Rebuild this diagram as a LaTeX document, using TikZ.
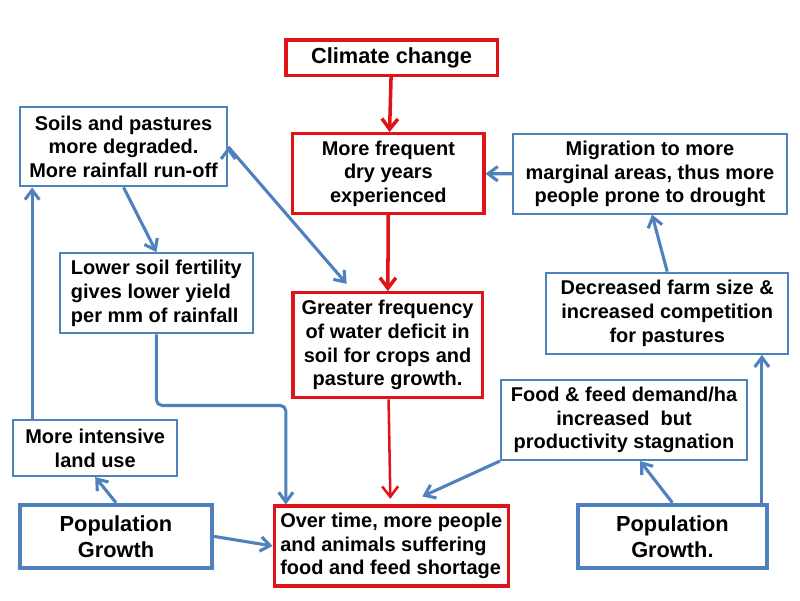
\documentclass[tikz,border=0pt]{standalone}
\usepackage{fontspec}
\setmainfont{Liberation Sans}
\usepackage{tikz}
\usetikzlibrary{positioning}
\usetikzlibrary{arrows.meta}
\definecolor{redc}{RGB}{224,20,24}
\definecolor{bluec}{RGB}{79,129,189}

\begin{document}
\begin{tikzpicture}[thick,
  red node/.style={rectangle,draw=redc,line width=2.2pt,inner sep=0pt,align=center,font=\fontsize{14.2}{16.9}\selectfont\bfseries},
  blue node/.style={rectangle,draw=bluec,line width=1.5pt,inner sep=0pt,align=center,font=\fontsize{14.2}{16.9}\selectfont\bfseries},
  big text/.style={font=\fontsize{15.5}{16.9}\selectfont\bfseries},
  pop node/.style={blue node,line width=3pt,font=\fontsize{15.5}{18.5}\selectfont\bfseries},
  red arrow/.style={draw=redc,line width=2.5pt,-{Straight Barb[length=2.6mm,width=4mm]}},
  blue arrow/.style={draw=bluec,line width=2.2pt,-{Straight Barb[length=2.4mm,width=3.6mm]}}]

	\useasboundingbox (0,0) rectangle (20,15);

	% centre column
	\node[red node,big text,minimum width=5.28cm,minimum height=0.88cm] (cc) at (9.79,13.56) {Climate change};
	\node[red node,minimum width=4.78cm,minimum height=2cm] (dry) at (9.71,10.66) {More frequent\\dry years\\experienced};
	\node[red node,minimum width=4.73cm,minimum height=2.63cm] (deficit) at (9.69,6.37) {Greater frequency\\of water deficit in\\soil for crops and\\pasture growth.};
	\node[red node,minimum width=5.85cm,minimum height=2cm,align=left] (short) at (9.78,1.35) {Over time, more people\\and animals suffering\\food and feed shortage};

	% left side
	\node[blue node,minimum width=5.18cm,minimum height=1.98cm] (soils) at (3.09,11.33) {Soils and pastures\\ more degraded.\\More rainfall run-off};
	\node[blue node,minimum width=4.83cm,minimum height=2cm,align=left] (fert) at (3.91,7.67) {Lower soil fertility\\gives lower yield\\per mm of rainfall};
	\node[blue node,minimum width=4.1cm,minimum height=1.4cm] (land) at (2.38,3.8) {More intensive\\land use};
	\node[pop node,minimum width=4.8cm,minimum height=1.58cm] (popL) at (2.9,1.59) {Population\\Growth};

	% right side
	\node[blue node,minimum width=6.85cm,minimum height=1.98cm] (migr) at (16.25,10.65) {Migration to more\\marginal areas, thus more\\people prone to drought};
	\node[blue node,minimum width=6.05cm,minimum height=2.03cm] (farm) at (16.68,7.17) {Decreased farm size \&\\ increased competition\\for pastures};
	\node[blue node,minimum width=6.15cm,minimum height=2cm] (food) at (15.6,4.5) {Food \& feed demand/ha\\increased\ \ but\\productivity stagnation};
	\node[pop node,minimum width=4.73cm,minimum height=1.58cm] (popR) at (16.81,1.59) {Population\\Growth.};

	\path[red arrow]
	(cc)		edge (dry)
	(dry)		edge (deficit);
	\draw[red arrow,line width=1.8pt,shorten >=4pt] (deficit) -- (short);

	\path[blue arrow]
	(migr)		edge (dry)
	(farm.north)	edge ([xshift=0.05cm]migr.south)
	(popR.north)	edge ([xshift=0.4cm]food.south)
	(food.south west)	edge ([xshift=0.78cm,yshift=0.2cm]short.north)
	(popL.east)	edge (short.west)
	(popL.north)	edge (land.south)
	(soils.south)	edge (fert.north)
	(soils.east)	edge ([xshift=1.38cm,yshift=0.18cm]deficit.north west);

	\draw[blue arrow] ([xshift=-0.18cm]popR.north east) -- ([xshift=-0.18cm]popR.north east |- farm.south);
	\draw[blue arrow] ([xshift=0.5cm]land.north west) -- ([xshift=0.5cm]land.north west |- soils.south);
	\draw[blue arrow,rounded corners=4pt] (fert.south) -- ++(0,-1.78) -| ([xshift=0.33cm]short.north west);
\end{tikzpicture}
\end{document}
